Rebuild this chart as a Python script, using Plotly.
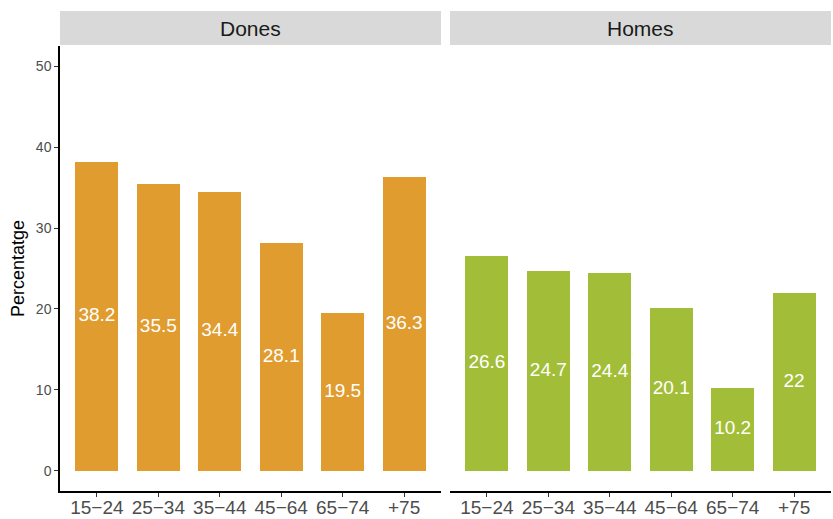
import plotly.graph_objects as go

# Age groups and percentages per sex
age_groups = ["15−24", "25−34", "35−44", "45−64", "65−74", "+75"]
dones = [38.2, 35.5, 34.4, 28.1, 19.5, 36.3]
homes = [26.6, 24.7, 24.4, 20.1, 10.2, 22]
panels = ["Dones", "Homes"]
colors = ["#E09C2F", "#A2BE38"]
y_ticks = [0, 10, 20, 30, 40, 50]

W, H = 833, 519
FONT = "Liberation Sans, Arial, Helvetica, sans-serif"

# Panel geometry in pixels
px_left = [(60, 441), (450, 831)]
plot_top, plot_bottom = 46, 491
strip_top, strip_bottom = 11, 45

fig = go.Figure()

def fmt(v):
    return ("%g" % v)

for i, (name, vals, col) in enumerate(zip(panels, [dones, homes], colors)):
    xa = "x" if i == 0 else "x2"
    fig.add_trace(go.Bar(
        x=age_groups, y=vals, marker=dict(color=col, line=dict(width=0)),
        width=0.7, xaxis=xa, yaxis="y", showlegend=False, hoverinfo="x+y",
    ))
    fig.add_trace(go.Scatter(
        x=age_groups, y=[v / 2 for v in vals], mode="text",
        text=[fmt(v) for v in vals],
        textfont=dict(family=FONT, size=19, color="white"),
        xaxis=xa, yaxis="y", showlegend=False, hoverinfo="skip",
    ))

ydom = [1 - plot_bottom / H, 1 - plot_top / H]
common_x = dict(
    type="category", range=[-0.6, 5.6], showgrid=False, zeroline=False,
    showline=True, linecolor="black", linewidth=1.5, automargin=False,
    ticks="outside", ticklen=4, tickcolor="#333333", tickwidth=1,
    ticklabelstandoff=-6,
    tickfont=dict(family=FONT, size=19, color="#4D4D4D"),
    fixedrange=True,
)
fig.update_layout(
    template="none",
    width=W, height=H,
    margin=dict(l=0, r=0, t=0, b=0, pad=0),
    paper_bgcolor="white", plot_bgcolor="white",
    xaxis=dict(domain=[px_left[0][0] / W, px_left[0][1] / W], anchor="y", **common_x),
    xaxis2=dict(domain=[px_left[1][0] / W, px_left[1][1] / W], anchor="y", **common_x),
    yaxis=dict(
        domain=ydom, range=[-2.5, 52.5], tickvals=y_ticks, automargin=False,
        showgrid=False, zeroline=False, showline=True, linecolor="black", linewidth=1.5,
        ticks="outside", ticklen=4, tickcolor="#333333", tickwidth=1,
        tickfont=dict(family=FONT, size=14, color="#4D4D4D"),
        title=dict(text="Percentatge", font=dict(family=FONT, size=18, color="black"), standoff=7),
        fixedrange=True,
    ),
    font=dict(family=FONT),
    bargap=0,
)

# Facet strips with panel names
for (x0, x1), name in zip(px_left, panels):
    fig.add_shape(type="rect", xref="paper", yref="paper",
                  x0=x0 / W, x1=x1 / W, y0=1 - strip_bottom / H, y1=1 - strip_top / H,
                  fillcolor="#D9D9D9", line=dict(width=0), layer="below")
    fig.add_annotation(xref="paper", yref="paper", x=(x0 + x1) / 2 / W,
                       y=1 - (strip_top + strip_bottom) / 2 / H, text=name, showarrow=False,
                       font=dict(family=FONT, size=21, color="#1A1A1A"),
                       xanchor="center", yanchor="middle")

fig.write_html("out.html")
